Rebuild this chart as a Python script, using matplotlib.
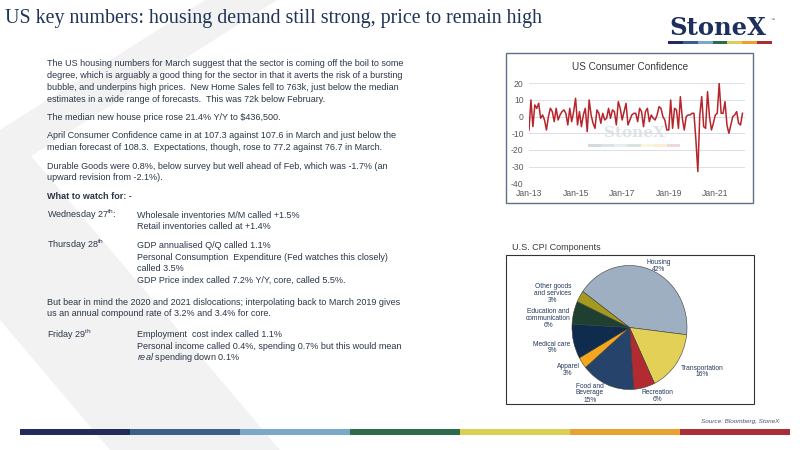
import matplotlib
matplotlib.use("Agg")
import matplotlib.pyplot as plt
from matplotlib.patches import Polygon, Rectangle

plt.rcParams["font.family"] = ["Liberation Sans", "DejaVu Sans"]
plt.rcParams["mathtext.fontset"] = "custom"
plt.rcParams["mathtext.rm"] = "Liberation Sans"
plt.rcParams["mathtext.it"] = "Liberation Sans:italic"
plt.rcParams["mathtext.bf"] = "Liberation Sans:bold"
plt.rcParams["axes.unicode_minus"] = False

# --- data ---
# US consumer confidence, monthly change (Jan-13 .. Mar-22)
cc_change = [
    -8, 10, -6, 7, 5, 8, -1, 1, -2, -8, 0, 5,        # 2013
    3, -3, 5, -2, 1, 3, 4, 2, -5, 5, -3, 3,          # 2014
    11, -5, 3, -6, 1, 5, -9, 10, 1, -4, -7, 4,       # 2015
    2, -4, 2, -2, -1, 5, -1, 4, 3, -5, 9, 5,         # 2016
    -2, 3, 8, -5, -2, 1, 2, 2, -3, 5, 3, -6,         # 2017
    3, 5, -3, 1, -1, -2, 1, 6, 5, 0, -2, -8,         # 2018
    -8, 10, -7, 5, 4, -7, 12, -1, -8, 0, 1, 1,       # 2019
    2, 2, -14, -33, 1, 12, -6, -7, 15, 0, -8, -4,    # 2020
    1, 2, 20, 2, 2, 9, -5, -10, -5, 0, 1, 3,         # 2021
    -4, -5, 2,                                       # 2022
]
months = list(range(len(cc_change)))
cc_ticks = [0, 24, 48, 72, 96]
cc_ticklabels = ["Jan-13", "Jan-15", "Jan-17", "Jan-19", "Jan-21"]
cc_yticks = [-40, -30, -20, -10, 0, 10, 20]

cpi_names = ["Housing", "Transportation", "Recreation", "Food and\nBeverage",
             "Apparel", "Medical care", "Education and\ncommunication",
             "Other goods\nand services"]
cpi_share = [42, 16, 6, 15, 3, 9, 6, 3]
cpi_colors = ["#9eafc2", "#e2d156", "#b32a30", "#25436b",
              "#f2a71f", "#0f2b4e", "#1f3f31", "#a49a20"]

brand_colors = ["#232b5c", "#3a5f8b", "#7aa8c8", "#2c6b4d",
                "#dccf56", "#e9a131", "#a82f35"]

W, H = 800, 450
fig = plt.figure(figsize=(8, 4.5), dpi=100)
bg = fig.add_axes([0, 0, 1, 1], zorder=-5)
bg.set_xlim(0, W)
bg.set_ylim(H, 0)
bg.axis("off")

# faint X watermark on the left
bg.add_patch(Polygon([(205, 0), (277, 0), (31, 156), (280, 450), (110, 450),
                      (0, 320), (0, 130)], closed=True, color="#f2f2f2", lw=0))

# title + logo
bg.text(5, 18, "US key numbers: housing demand still strong, price to remain high",
        family="Liberation Serif", fontsize=14.4, color="#1f3457", va="center")
bg.text(718, 28, "StoneX", family="DejaVu Serif", weight="bold", fontsize=17.5,
        color="#1d2f5c", ha="center", va="center")
bg.text(771, 20, "™", fontsize=3, color="#1d2f5c", va="center")
seg = (772 - 668) / len(brand_colors)
for i, c in enumerate(brand_colors):
    bg.add_patch(Rectangle((668 + i * seg, 41), seg, 3, color=c, lw=0))

# body text
txt = "#2b3648"
fs = 6.5
body = [
    (64, "The US housing numbers for March suggest that the sector is coming off the boil to some"),
    (76, "degree, which is arguably a good thing for the sector in that it averts the risk of a bursting"),
    (88, "bubble, and underpins high prices.  New Home Sales fell to 763k, just below the median"),
    (100, "estimates in a wide range of forecasts.  This was 72k below February."),
    (117, "The median new house price rose 21.4% Y/Y to \\$436,500."),
    (136, "April Consumer Confidence came in at 107.3 against 107.6 in March and just below the"),
    (147, "median forecast of 108.3.  Expectations, though, rose to 77.2 against 76.7 in March."),
    (166.5, "Durable Goods were 0.8%, below survey but well ahead of Feb, which was -1.7% (an"),
    (178, "upward revision from -2.1%)."),
    (302.5, "But bear in mind the 2020 and 2021 dislocations; interpolating back to March 2019 gives"),
    (313.5, "us an annual compound rate of 3.2% and 3.4% for core."),
]
for y, s in body:
    bg.text(47, y, s, fontsize=fs, color=txt, va="center")
bg.text(47, 196.5, "What to watch for: -", fontsize=fs, color=txt, va="center",
        weight="bold")

days = [(215, "Wednesday 27$^{\\rm th}$:"), (245, "Thursday 28$^{\\rm th}$"),
        (334.5, "Friday 29$^{\\rm th}$")]
for y, s in days:
    bg.text(47, y, s, fontsize=fs, color=txt, va="center")

calls = [
    (215, "Wholesale inventories M/M called +1.5%"),
    (226.5, "Retail inventories called at +1.4%"),
    (245, "GDP annualised Q/Q called 1.1%"),
    (257, "Personal Consumption  Expenditure (Fed watches this closely)"),
    (268.5, "called 3.5%"),
    (280.5, "GDP Price index called 7.2% Y/Y, core, called 5.5%."),
    (334.5, "Employment  cost index called 1.1%"),
    (346.5, "Personal income called 0.4%, spending 0.7% but this would mean"),
    (357.5, "$\\it{real}$ spending down 0.1%"),
]
for y, s in calls:
    bg.text(137, y, s, fontsize=fs, color=txt, va="center")

# chart frames
bg.add_patch(Rectangle((506, 53), 247, 150, facecolor="white",
                       edgecolor="#5d7189", lw=1))
bg.add_patch(Rectangle((506, 255), 248, 149, facecolor="white",
                       edgecolor="#333333", lw=0.8))
bg.text(630, 67, "US Consumer Confidence", fontsize=7.2, color="#3a3a3a",
        ha="center", va="center")
bg.text(512, 248, "U.S. CPI Components", fontsize=6.5, color="#3a3a3a",
        va="center")

# watermark inside the line chart
bg.text(634, 133, "StoneX", family="DejaVu Serif", weight="bold", fontsize=11,
        color="#dfe2e7", ha="center", va="center")
wseg = 92 / len(brand_colors)
for i, c in enumerate(brand_colors):
    bg.add_patch(Rectangle((588 + i * wseg, 144), wseg, 2.5, color=c, lw=0,
                           alpha=0.18))

# line chart
ax1 = fig.add_axes([529 / W, 1 - 183.3 / H, 216 / W, 100 / H])
ax1.patch.set_alpha(0)
ax1.plot(months, cc_change, color="#b7252c", lw=1.1, zorder=3)
ax1.set_xlim(0, 111.3)
ax1.set_ylim(-40, 20)
ax1.set_yticks(cc_yticks)
ax1.set_xticks(cc_ticks)
ax1.set_xticklabels(cc_ticklabels)
ax1.grid(axis="y", color="#dcdfe6", lw=0.7)
ax1.tick_params(length=0, labelsize=6.2, labelcolor="#595959", pad=3.8)
for sp in ax1.spines.values():
    sp.set_visible(False)

# pie chart (slightly taller than wide as in the source)
cx, cy, rx, ry = 629.5, 327.5, 57.5, 62
ax2 = fig.add_axes([(cx - rx) / W, 1 - (cy + ry) / H, 2 * rx / W, 2 * ry / H])
ax2.pie(cpi_share, colors=cpi_colors, startangle=144.5, counterclock=False,
        wedgeprops=dict(edgecolor="#3a3a3a", linewidth=0.4))
ax2.set_aspect("auto")
ax2.set_xlim(-1, 1)
ax2.set_ylim(-1, 1)

label_pos = [(659, 266), (702, 371.5), (657, 396), (590, 393), (568, 370),
             (552, 347.5), (548.5, 318.7), (553, 293.5)]
for (lx, ly), name, v in zip(label_pos, cpi_names, cpi_share):
    bg.text(lx, ly, f"{name}\n{v}%", fontsize=4.8, color="#22385c",
            ha="center", va="center", linespacing=1.0, zorder=5)

# footer
bg.text(779, 422, "Source: Bloomberg, StoneX", fontsize=4.6, style="italic",
        color="#44546a", ha="right", va="center")
bseg = (790 - 20) / len(brand_colors)
for i, c in enumerate(brand_colors):
    bg.add_patch(Rectangle((20 + i * bseg, 429), bseg, 6, color=c, lw=0))

fig.savefig("out.png", dpi=100)
